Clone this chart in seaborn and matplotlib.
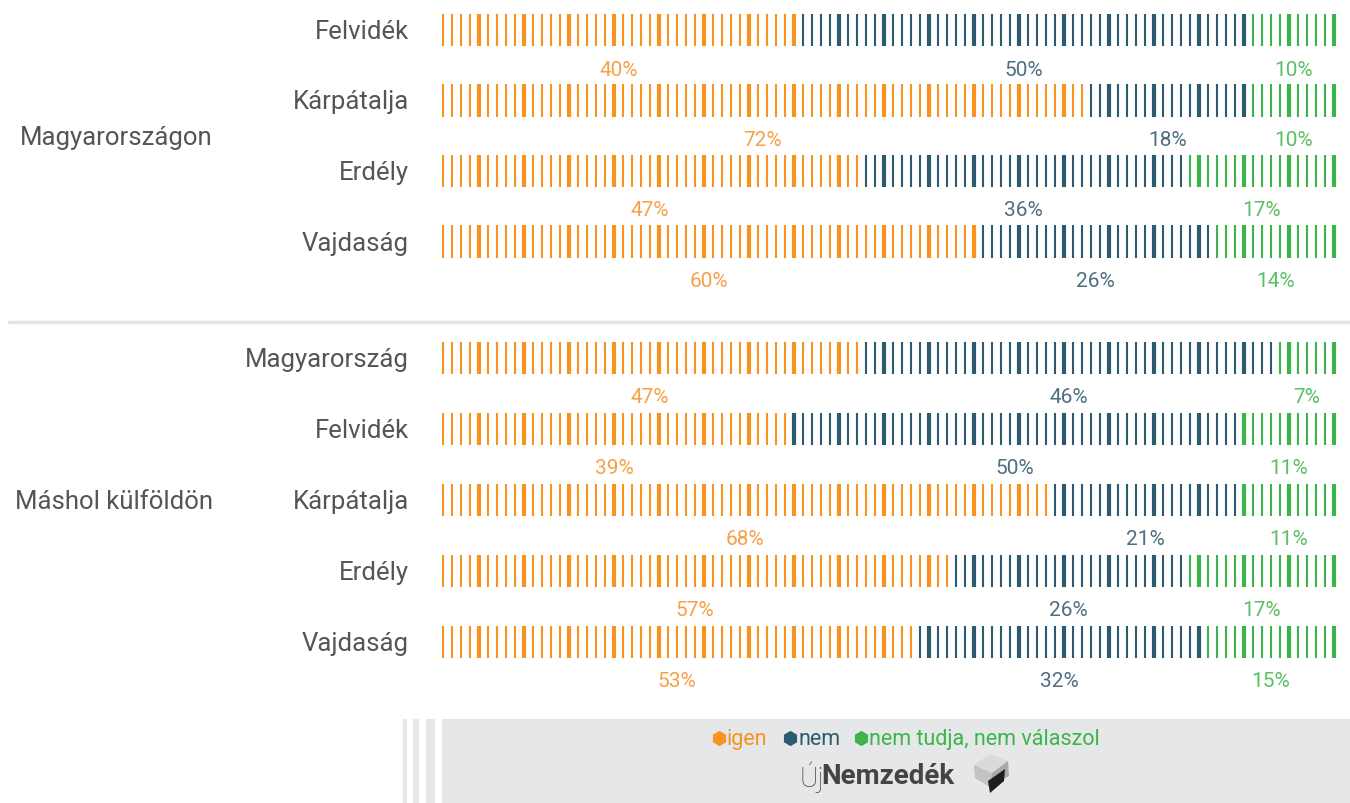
import numpy as np
import pandas as pd
import matplotlib
matplotlib.use("Agg")
import matplotlib.pyplot as plt
import seaborn as sns
from matplotlib.patches import Rectangle, Polygon

# adatok
csoportok = ["Magyarországon", "Máshol külföldön"]
regiok_1 = ["Felvidék", "Kárpátalja", "Erdély", "Vajdaság"]
regiok_2 = ["Magyarország", "Felvidék", "Kárpátalja", "Erdély", "Vajdaság"]
igen = [40, 72, 47, 60, 47, 39, 68, 57, 53]
nem = [50, 18, 36, 26, 46, 50, 21, 26, 32]
nem_tudja = [10, 10, 17, 14, 7, 11, 11, 17, 15]
valaszok = ["igen", "nem", "nem tudja, nem válaszol"]

szinek = {"igen": "#F7931E", "nem": "#2C5A6E", "nem tudja, nem válaszol": "#3BB54A"}
szoveg_szinek = {"igen": "#F6A047", "nem": "#4D6F80", "nem tudja, nem válaszol": "#5CBF65"}
szurke = "#555555"

sns.set_style("white")
plt.rcParams['font.family'] = ['Roboto', 'DejaVu Sans']

regiok = regiok_1 + regiok_2
# sor kozeppontok (pixel)
sor_y = [31 + i * 70.5 for i in range(4)] + [359 + i * 71 for i in range(5)]

rows = []
for r in range(len(regiok)):
    hatarok = [igen[r], igen[r] + nem[r], 100]
    for k in range(1, 101):
        if k <= hatarok[0]:
            kat = valaszok[0]
        elif k <= hatarok[1]:
            kat = valaszok[1]
        else:
            kat = valaszok[2]
        rows.append({"sor": r, "y": sor_y[r], "k": k, "valasz": kat, "vastag": k % 5 == 0})
df = pd.DataFrame(rows)

fig = plt.figure(figsize=(13.5, 8.04), dpi=100)
ax = fig.add_axes([0, 0, 1, 1])

# x: k-adik vonal -> 443 + (k-1)*9 px
def px2k(px):
    return 1 + (px - 443) / 9.0

ax.set_xlim(px2k(0), px2k(1350))
ax.set_ylim(804, 0)
ax.axis("off")

sns.scatterplot(data=df[~df.vastag], x="k", y="y", hue="valasz", palette=szinek,
                marker="|", s=540, linewidth=1.5, legend=False, ax=ax)
sns.scatterplot(data=df[df.vastag], x="k", y="y", hue="valasz", palette=szinek,
                marker="|", s=540, linewidth=3.0, legend=False, ax=ax)

# felirat
for r, nev in enumerate(regiok):
    ax.text(px2k(409), sor_y[r] + 1, nev, ha="right", va="center", fontsize=18.5, color=szurke)
    ertekek = [igen[r], nem[r], nem_tudja[r]]
    start = 1
    for v, kat in zip(ertekek, valaszok):
        kozep = start + (v - 1) / 2.0
        ax.text(kozep, sor_y[r] + 39, f"{v}%", ha="center", va="center",
                fontsize=15, color=szoveg_szinek[kat])
        start += v

ax.text(px2k(213), (sor_y[0] + sor_y[3]) / 2 + 1, csoportok[0], ha="right", va="center",
        fontsize=18.5, color=szurke)
ax.text(px2k(213), (sor_y[4] + sor_y[8]) / 2 + 1, csoportok[1], ha="right", va="center",
        fontsize=18.5, color=szurke)

# elvalaszto vonal
ax.plot([px2k(9), px2k(1350)], [323, 323], color="#E3E4E6", lw=2.5)

# lablec
sz = "#E6E7E8"
ax.add_patch(Rectangle((px2k(442), 720), px2k(1350) - px2k(442), 84, color=sz, lw=0))
for x0, x1 in [(403, 406.5), (413, 419), (426, 435)]:
    ax.add_patch(Rectangle((px2k(x0), 720), px2k(x1) - px2k(x0), 84, color=sz, lw=0))

# jelmagyarazat
leg_x = [719, 790, 861]
for lx, kat in zip(leg_x, valaszok):
    ax.scatter([px2k(lx)], [739], marker="h", s=120, color=szinek[kat], lw=0)
    ax.text(px2k(lx + 8), 740, kat, ha="left", va="center", fontsize=15.5,
            color=szinek[kat] if kat != "nem" else "#2C5A6E")

# logo
ax.text(px2k(799), 777, "Új", ha="left", va="center", fontsize=20, color="#444444",
        fontweight="light")
ax.text(px2k(821), 777, "Nemzedék", ha="left", va="center", fontsize=20,
        color="#444444", fontweight="bold")
cx, cy = 992, 774
def p(pts, c):
    ax.add_patch(Polygon([(px2k(a), b) for a, b in pts], closed=True, color=c, lw=0))
p([(cx - 18, cy - 8), (cx - 2, cy - 19), (cx + 16, cy - 12), (cx, cy)], "#DADADA")
p([(cx - 18, cy - 8), (cx, cy), (cx - 2, cy + 14), (cx - 17, cy + 5)], "#C2C2C2")
p([(cx, cy), (cx + 16, cy - 12), (cx + 17, cy + 3), (cx - 2, cy + 14)], "#A9A9A9")
p([(cx - 4, cy + 8), (cx + 13, cy - 4), (cx + 12, cy + 8), (cx - 2, cy + 20)], "#1E1E1E")

fig.savefig("out.png", dpi=100)
